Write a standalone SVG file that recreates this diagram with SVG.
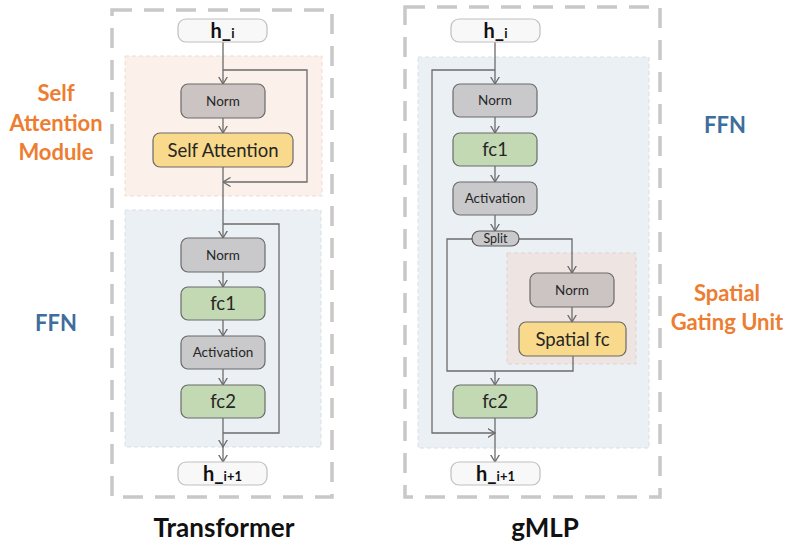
<svg xmlns="http://www.w3.org/2000/svg" width="789" height="547" viewBox="0 0 789 547">
<defs>
<marker id="ah" markerUnits="userSpaceOnUse" viewBox="0 0 8 10" refX="7.5" refY="5" markerWidth="8" markerHeight="10" orient="auto">
<path d="M0,0.5 L7.5,5 L0,9.5" fill="none" stroke="#6b6b6b" stroke-width="1.3"/>
</marker>
</defs>
<style>
.outer{fill:none;stroke:#c8c8c8;stroke-width:3.5;stroke-dasharray:20 12}
.bgsa{fill:#fbf0ea;stroke:#ecdcd3;stroke-width:1;stroke-dasharray:4 3}
.bgffn{fill:#ebf0f5;stroke:#d9dfe6;stroke-width:1;stroke-dasharray:4 3}
.bgsgu{fill:#eee4e1;stroke:#ded3cf;stroke-width:1;stroke-dasharray:4 3}
.io{fill:#f8f8f8;stroke:#bfbfbf;stroke-width:1.2}
.norm{fill:#c9c9cb;stroke:#6a6a6a;stroke-width:1.2}
.normw{fill:#cbc4c2;stroke:#6a6a6a;stroke-width:1.2}
.fc{fill:#c2d9b3;stroke:#6a6a6a;stroke-width:1.2}
.yel{fill:#f9d98b;stroke:#6a6a6a;stroke-width:1.2}
.split{fill:#c9c9cb;stroke:#5a5a5a;stroke-width:1.2}
.t{font-family:Lato,"Liberation Sans",sans-serif;fill:#262626;text-anchor:middle}
.s{font-size:13.5px}
.m{font-size:18.5px}
.hb{font-family:Lato,"Liberation Sans",sans-serif;font-weight:bold;fill:#111;text-anchor:middle;font-size:20px}
.lab{font-family:Lato,"Liberation Sans",sans-serif;font-weight:bold;text-anchor:middle;font-size:22px}
.or{fill:#ed7d31}
.bl{fill:#3e6e9c}
.title{font-family:Lato,"Liberation Sans",sans-serif;font-weight:bold;text-anchor:middle;font-size:26px;fill:#111}
.c{fill:none;stroke:#6b6b6b;stroke-width:1.3}
</style>

<g id="transformer-frame">
<rect class="outer" x="112" y="10" width="220" height="487"/>
<rect class="bgsa" x="125" y="56" width="197" height="140"/>
<rect class="bgffn" x="125" y="210" width="196" height="237"/>
</g>
<g id="gmlp-frame">
<rect class="outer" x="405" y="7" width="255" height="490"/>
<rect class="bgffn" x="418" y="57" width="231" height="391"/>
<rect class="bgsgu" x="507" y="253" width="129" height="111"/>
</g>

<g id="connectors">
<path class="c" d="M223,42 V84" marker-end="url(#ah)"/>
<path class="c" d="M223,70 H307 V182 H223" marker-end="url(#ah)"/>
<path class="c" d="M223,118 V133" marker-end="url(#ah)"/>
<path class="c" d="M223,167 V238" marker-end="url(#ah)"/>
<path class="c" d="M223,224 H279 V433 H223"/>
<path class="c" d="M223,272 V287" marker-end="url(#ah)"/>
<path class="c" d="M223,320 V336" marker-end="url(#ah)"/>
<path class="c" d="M223,369 V385" marker-end="url(#ah)"/>
<path class="c" d="M223,418 V447" marker-end="url(#ah)"/>
<path class="c" d="M223,447 V462" marker-end="url(#ah)"/>

<path class="c" d="M495,42 V84" marker-end="url(#ah)"/>
<path class="c" d="M495,70 H432 V433 H495" marker-end="url(#ah)"/>
<path class="c" d="M495,117 V133" marker-end="url(#ah)"/>
<path class="c" d="M495,166 V182" marker-end="url(#ah)"/>
<path class="c" d="M495,215 V231" marker-end="url(#ah)"/>
<path class="c" d="M472,239 H447 V371 H573 V356"/>
<path class="c" d="M519,239 H572 V273" marker-end="url(#ah)"/>
<path class="c" d="M572,307 V322" marker-end="url(#ah)"/>
<path class="c" d="M495,371 V385" marker-end="url(#ah)"/>
<path class="c" d="M495,418 V462" marker-end="url(#ah)"/>
</g>

<g id="t-hi"><rect class="io" x="178" y="19" width="89" height="23" rx="8"/><text class="hb" x="222.5" y="38">h_<tspan font-size="13">i</tspan></text></g>
<g id="t-norm1"><rect class="normw" x="181" y="84" width="84" height="34" rx="7"/><text class="t s" x="223" y="105.5">Norm</text></g>
<g id="t-sa"><rect class="yel" x="153" y="133" width="140" height="34" rx="7"/><text class="t m" x="223" y="156.5">Self Attention</text></g>
<g id="t-norm2"><rect class="norm" x="181" y="238" width="84" height="34" rx="7"/><text class="t s" x="223" y="259.5">Norm</text></g>
<g id="t-fc1"><rect class="fc" x="181" y="287" width="84" height="33" rx="7"/><text class="t m" x="223" y="310">fc1</text></g>
<g id="t-act"><rect class="norm" x="181" y="336" width="84" height="33" rx="7"/><text class="t s" x="223" y="357">Activation</text></g>
<g id="t-fc2"><rect class="fc" x="181" y="385" width="84" height="33" rx="7"/><text class="t m" x="223" y="408">fc2</text></g>
<g id="t-hi1"><rect class="io" x="178" y="462" width="89" height="23" rx="8"/><text class="hb" x="222.5" y="481">h_<tspan font-size="13">i+1</tspan></text></g>

<g id="g-hi"><rect class="io" x="451" y="19" width="89" height="23" rx="8"/><text class="hb" x="495.5" y="38">h_<tspan font-size="13">i</tspan></text></g>
<g id="g-norm"><rect class="norm" x="453" y="84" width="84" height="33" rx="7"/><text class="t s" x="495" y="105">Norm</text></g>
<g id="g-fc1"><rect class="fc" x="453" y="133" width="84" height="33" rx="7"/><text class="t m" x="495" y="156">fc1</text></g>
<g id="g-act"><rect class="norm" x="453" y="182" width="84" height="33" rx="7"/><text class="t s" x="495" y="203">Activation</text></g>
<g id="g-split"><rect class="split" x="472" y="231" width="47" height="15" rx="7.5"/><text class="t" font-size="12.5" x="495.5" y="243">Split</text></g>
<g id="g-norm2"><rect class="normw" x="530" y="273" width="84" height="34" rx="7"/><text class="t s" x="572" y="294.5">Norm</text></g>
<g id="g-sfc"><rect class="yel" x="519" y="322" width="107" height="34" rx="7"/><text class="t m" x="572.5" y="345.5">Spatial fc</text></g>
<g id="g-fc2"><rect class="fc" x="453" y="385" width="84" height="33" rx="7"/><text class="t m" x="495" y="408">fc2</text></g>
<g id="g-hi1"><rect class="io" x="451" y="462" width="89" height="23" rx="8"/><text class="hb" x="495.5" y="481">h_<tspan font-size="13">i+1</tspan></text></g>

<g id="labels">
<text class="lab or" x="56" y="101">Self</text>
<text class="lab or" x="56" y="131">Attention</text>
<text class="lab or" x="56" y="160">Module</text>
<text class="lab bl" x="56" y="331">FFN</text>
<text class="lab bl" x="725" y="133">FFN</text>
<text class="lab or" x="727" y="301">Spatial</text>
<text class="lab or" x="727" y="330">Gating Unit</text>
<text class="title" x="224" y="537">Transformer</text>
<text class="title" x="545" y="537">gMLP</text>
</g>
</svg>
